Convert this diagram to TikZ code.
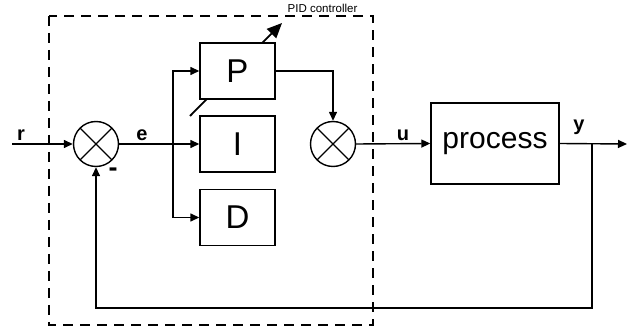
\documentclass[tikz,border=0pt]{standalone}
\usepackage{fontspec}
\setmainfont{Liberation Sans}
\usetikzlibrary{arrows.meta}
\begin{document}
\begin{tikzpicture}[x=1pt,y=-1pt,line width=1.4pt,
  >={Triangle[length=9pt,width=8pt]},
  sumj/.style={circle,draw,fill=white,minimum size=45pt,inner sep=0pt,
    path picture={\draw[line width=1.1pt] (path picture bounding box.north west)--(path picture bounding box.south east)
                        (path picture bounding box.south west)--(path picture bounding box.north east);}},
  blk/.style={draw,fill=white,minimum width=75pt,minimum height=56pt,inner sep=0pt,font=\fontsize{33}{33}\selectfont},
  lbl/.style={font=\fontsize{20}{20}\selectfont\bfseries,inner sep=0pt,anchor=base},
  frame/.style={draw,dash pattern=on 10pt off 7pt,line width=1.4pt}]
\useasboundingbox[fill=white] (0,0) rectangle (641,331);
% PID frame
\draw[frame] (49,16) rectangle (373,325);
\node[font=\fontsize{11.5}{11.5}\selectfont,anchor=base west,inner sep=0pt] (pidl) at (287,12.5) {PID controller};
% diagonal adjustable arrow behind P
\coordinate (da) at (190,116);
\coordinate (db) at (282,23);
\draw[line width=1.8pt,-{Triangle[length=15pt,width=13pt]}] (da) -- (db);
% nodes
\node[sumj] (s1) at (96,144) {};
\node[sumj] (s2) at (333,144) {};
\node[blk] (P) at (237.5,71) {P};
\node[blk] (I) at (237.5,144) {I};
\node[blk] (D) at (237.5,217.5) {D};
\node[draw,fill=white,minimum width=128pt,minimum height=81pt,inner sep=0pt,font=\fontsize{30}{30}\selectfont] (proc) at (495,143.5) {process};
% coordinates
\coordinate (rin) at (12,144);
\coordinate (br) at (173,144);
\coordinate (ybr) at (592,144);
\coordinate (yout) at (627,144);
\coordinate (fb) at (592,308);
% connectors
\draw[->] (rin) -- (s1.west);
\draw[->] (s1.east) -- (I.west);
\draw[->] (br) |- (P.west);
\draw[->] (br) |- (D.west);
\draw[->] (P.east) -| (s2.north);
\draw[->] (s2.east) -- (proc.west);
\draw[->] (proc.east) -- (yout);
\draw[->] (ybr) -- (fb) -| (s1.south);
% labels
\node[lbl] (lr) at (21,141) {r};
\node[lbl] (le) at (142,141) {e};
\node[lbl] (lu) at (403,141) {u};
\node[lbl] (ly) at (579,131) {y};
\node[font=\fontsize{27}{27}\selectfont\bfseries,inner sep=0pt] (lm) at (113,172) {-};
\end{tikzpicture}
\end{document}
